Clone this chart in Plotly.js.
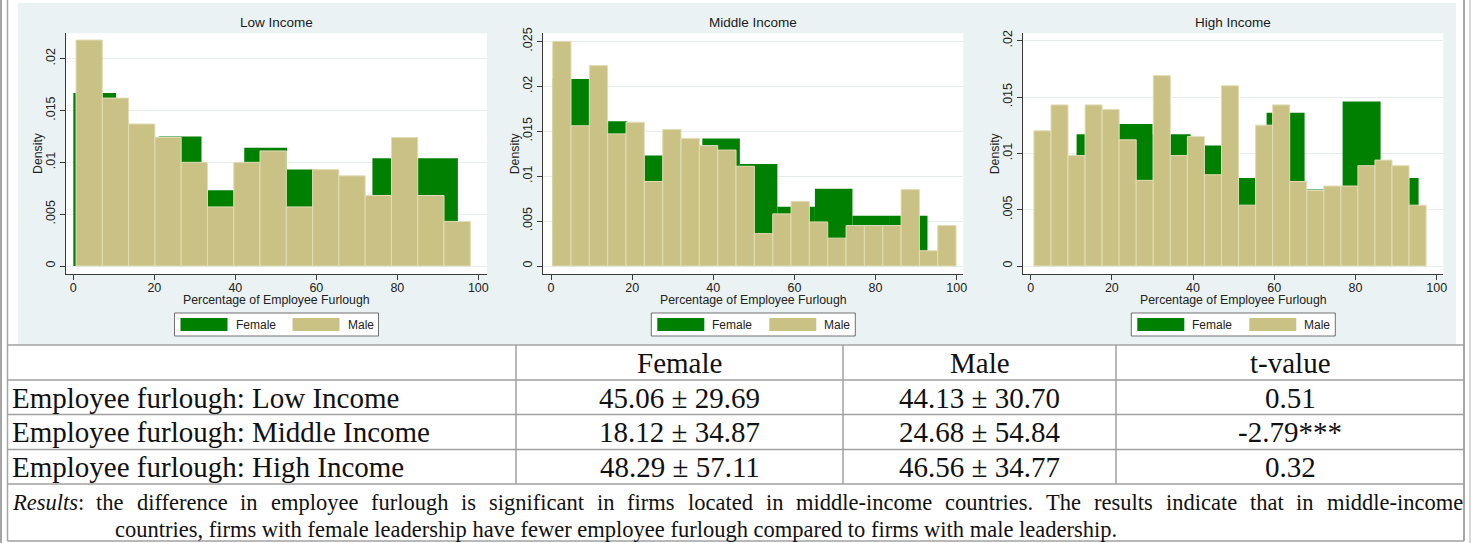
<!DOCTYPE html>
<html>
<head>
<meta charset="utf-8">
<script src="https://cdn.plot.ly/plotly-3.0.1.min.js"></script>
<style>
html,body{margin:0;padding:0;background:#fff;}
#chart{width:1471px;height:543px;}
</style>
</head>
<body>
<div id="chart"></div>
<script>
// ---------------- DATA ----------------
const panelTitles = ["Low Income", "Middle Income", "High Income"];
const xTickVals = [0, 20, 40, 60, 80, 100];
const xTickText = ["0", "20", "40", "60", "80", "100"];
const yTickValsLow = [0, 0.005, 0.01, 0.015, 0.02];
const yTickTextLow = ["0", ".005", ".01", ".015", ".02"];
const yTickValsMid = [0, 0.005, 0.01, 0.015, 0.02, 0.025];
const yTickTextMid = ["0", ".005", ".01", ".015", ".02", ".025"];
const yTickValsHigh = [0, 0.005, 0.01, 0.015, 0.02];
const yTickTextHigh = ["0", ".005", ".01", ".015", ".02"];

// histogram bins: first edge, bin width, densities
const maleLowStart = 0.67, maleLowWidth = 6.49;
const maleLowDensity = [0.0218, 0.0162, 0.0137, 0.0124, 0.0100, 0.0057, 0.0100, 0.0111, 0.0057, 0.0093, 0.0087, 0.0068, 0.0124, 0.0068, 0.0043];
const femaleLowStart = 0, femaleLowWidth = 10.55;
const femaleLowDensity = [0.0167, 0.0120, 0.0125, 0.0073, 0.0114, 0.0093, 0.0065, 0.0104, 0.0104];

const maleMidStart = 0.41, maleMidWidth = 4.52;
const maleMidDensity = [0.0250, 0.0156, 0.0223, 0.0147, 0.0160, 0.0094, 0.0152, 0.0142, 0.0134, 0.0129, 0.0111, 0.0036, 0.0058, 0.0072, 0.0049, 0.0031, 0.0045, 0.0045, 0.0045, 0.0085, 0.0017, 0.0045];
const femaleMidStart = 0.3, femaleMidWidth = 9.25;
const femaleMidDensity = [0.0208, 0.0161, 0.0123, 0.0125, 0.0142, 0.01135, 0.0066, 0.0086, 0.0056, 0.0056];

const maleHighStart = 0.8, maleHighWidth = 4.2;
const maleHighDensity = [0.0120, 0.0143, 0.0098, 0.0143, 0.0139, 0.0112, 0.0076, 0.0169, 0.0098, 0.0115, 0.0081, 0.0160, 0.0054, 0.0125, 0.0143, 0.0075, 0.0067, 0.0071, 0.0071, 0.0089, 0.0094, 0.0089, 0.0054];
const femaleHighStart = 1.95, femaleHighWidth = 9.36;
const femaleHighDensity = [0.0090, 0.0117, 0.0126, 0.0117, 0.0107, 0.0078, 0.0136, 0.0068, 0.0146, 0.0078];

const legendLabels = ["Female", "Male"];
const xAxisTitle = "Percentage of Employee Furlough";
const yAxisTitle = "Density";

// table
const tableHeader = ["", "Female", "Male", "t-value"];
const rowLabels = ["Employee furlough: Low Income", "Employee furlough: Middle Income", "Employee furlough: High Income"];
const femaleCol = ["45.06 \u00b1 29.69", "18.12 \u00b1 34.87", "48.29 \u00b1 57.11"];
const maleCol = ["44.13 \u00b1 30.70", "24.68 \u00b1 54.84", "46.56 \u00b1 34.77"];
const tCol = ["0.51", "-2.79***", "0.32"];
const resultsLead = "Results";
const resultsLine1 = ": the difference in employee furlough is significant in firms located in middle-income countries. The results indicate that in middle-income";
const resultsLine2 = "countries, firms with female leadership have fewer employee furlough compared to firms with male leadership.";

// ---------------- STYLE / LAYOUT ----------------
const W = 1471, H = 543;
const px = x => x / W;
const py = y => 1 - y / H;
const GREEN = "#008000", KHAKI = "#cac285", BG = "#eaf2f3";
const AXC = "#3a3a3a";
const SANS = "Arial, 'Liberation Sans', sans-serif";
const SERIF = "'Times New Roman', 'Liberation Serif', serif";

function centers(start, width, n) { const a = []; for (let i = 0; i < n; i++) a.push(start + width * (i + 0.5)); return a; }

const panels = [
  {fs: femaleLowStart, fw: femaleLowWidth, fd: femaleLowDensity, ms: maleLowStart, mw: maleLowWidth, md: maleLowDensity,
   left: 66, right: 487, x0: 73.33, x100: 478.33, y0: 266, yRefVal: 0.02, yRefPx: 58.67, tv: yTickValsLow, tt: yTickTextLow},
  {fs: femaleMidStart, fw: femaleMidWidth, fd: femaleMidDensity, ms: maleMidStart, mw: maleMidWidth, md: maleMidDensity,
   left: 543.3, right: 963.3, x0: 551, x100: 956.7, y0: 266, yRefVal: 0.025, yRefPx: 41.33, tv: yTickValsMid, tt: yTickTextMid},
  {fs: femaleHighStart, fw: femaleHighWidth, fd: femaleHighDensity, ms: maleHighStart, mw: maleHighWidth, md: maleHighDensity,
   left: 1023.3, right: 1443.3, x0: 1030.67, x100: 1436.67, y0: 266, yRefVal: 0.02, yRefPx: 40.67, tv: yTickValsHigh, tt: yTickTextHigh}
];
const plotTop = 33.3, plotBottom = 274;

const traces = [];
const layout = {
  width: W, height: H,
  margin: {l: 0, r: 0, t: 0, b: 0},
  paper_bgcolor: "#ffffff",
  plot_bgcolor: "rgba(0,0,0,0)",
  showlegend: false,
  barmode: "overlay",
  font: {family: SANS, color: "#222"},
  shapes: [], annotations: []
};

// graph background
layout.shapes.push({type: "rect", xref: "paper", yref: "paper", x0: px(18), x1: px(1456), y0: py(344), y1: py(3), fillcolor: BG, line: {width: 0}, layer: "below"});

panels.forEach((p, i) => {
  const n = i + 1;
  const xa = "xaxis" + (n === 1 ? "" : n), ya = "yaxis" + (n === 1 ? "" : n);
  const xr = "x" + (n === 1 ? "" : n), yr = "y" + (n === 1 ? "" : n);
  const ppu = (p.x100 - p.x0) / 100;
  const ypu = (p.y0 - p.yRefPx) / p.yRefVal;
  const xRange = [(p.left - p.x0) / ppu, (p.right - p.x0) / ppu];
  const yRange = [(p.y0 - plotBottom) / ypu, (p.y0 - plotTop) / ypu];

  // white plot area
  layout.shapes.push({type: "rect", xref: "paper", yref: "paper", x0: px(p.left), x1: px(p.right), y0: py(plotBottom), y1: py(plotTop), fillcolor: "#ffffff", line: {width: 0}, layer: "below"});

  traces.push({type: "bar", x: centers(p.fs, p.fw, p.fd.length), y: p.fd, width: p.fw, name: legendLabels[0],
    marker: {color: GREEN, line: {color: GREEN, width: 0}}, xaxis: xr, yaxis: yr, hoverinfo: "skip"});
  traces.push({type: "bar", x: centers(p.ms, p.mw, p.md.length), y: p.md, width: p.mw, name: legendLabels[1],
    marker: {color: KHAKI, line: {color: "#e2ddb8", width: 1}}, xaxis: xr, yaxis: yr, hoverinfo: "skip"});

  layout[xa] = {
    domain: [px(p.left), px(p.right)], anchor: yr, range: xRange, fixedrange: true,
    tickvals: xTickVals, ticktext: xTickText, ticks: "outside", ticklen: 5, tickcolor: AXC, tickwidth: 1,
    showline: true, linecolor: AXC, linewidth: 1, showgrid: false, zeroline: false, ticklabelstandoff: -3,
    tickfont: {family: SANS, size: 12.5, color: "#222"}
  };
  layout[ya] = {
    domain: [py(plotBottom), py(plotTop)], anchor: xr, range: yRange, fixedrange: true,
    tickvals: p.tv, ticktext: p.tt, tickangle: -90, ticks: "outside", ticklen: 5, tickcolor: AXC, tickwidth: 1,
    showline: true, linecolor: AXC, linewidth: 1, showgrid: true, gridcolor: "#e6eef0", gridwidth: 1, zeroline: false,
    tickfont: {family: SANS, size: 12.5, color: "#222"}
  };

  const cx = (p.left + p.right) / 2;
  layout.annotations.push({xref: "paper", yref: "paper", x: px(cx), y: py(22), text: panelTitles[i], showarrow: false,
    xanchor: "center", yanchor: "middle", font: {family: SANS, size: 13.5, color: "#1a1a1a"}});
  // axis titles
  layout.annotations.push({xref: "paper", yref: "paper", x: px(cx), y: py(300), text: xAxisTitle, showarrow: false,
    xanchor: "center", yanchor: "middle", font: {family: SANS, size: 12.3, color: "#222"}});
  layout.annotations.push({xref: "paper", yref: "paper", x: px(p.left - 28), y: py(153), text: yAxisTitle, showarrow: false, textangle: -90,
    xanchor: "center", yanchor: "middle", font: {family: SANS, size: 12.3, color: "#222"}});

  // legend box
  const lx = cx - 102;
  layout.shapes.push({type: "rect", xref: "paper", yref: "paper", x0: px(lx), x1: px(lx + 204), y0: py(336), y1: py(313), fillcolor: "#ffffff", line: {color: "#707070", width: 1}});
  layout.shapes.push({type: "rect", xref: "paper", yref: "paper", x0: px(lx + 6), x1: px(lx + 53), y0: py(331), y1: py(318), fillcolor: GREEN, line: {width: 0}});
  layout.shapes.push({type: "rect", xref: "paper", yref: "paper", x0: px(lx + 118), x1: px(lx + 165), y0: py(331), y1: py(318), fillcolor: KHAKI, line: {width: 0}});
  layout.annotations.push({xref: "paper", yref: "paper", x: px(lx + 59), y: py(324.5), text: legendLabels[0], showarrow: false, xanchor: "left", yanchor: "middle", font: {family: SANS, size: 12, color: "#222"}});
  layout.annotations.push({xref: "paper", yref: "paper", x: px(lx + 171), y: py(324.5), text: legendLabels[1], showarrow: false, xanchor: "left", yanchor: "middle", font: {family: SANS, size: 12, color: "#222"}});
});

// outer frame lines
const FR = "#a6a6a6";
function vline(x, y0, y1, c, w) { layout.shapes.push({type: "line", xref: "paper", yref: "paper", x0: px(x), x1: px(x), y0: py(y0), y1: py(y1), line: {color: c, width: w}}); }
function hline(y, x0, x1, c, w) { layout.shapes.push({type: "line", xref: "paper", yref: "paper", x0: px(x0), x1: px(x1), y0: py(y), y1: py(y), line: {color: c, width: w}}); }
vline(1, 0, 543, FR, 2);
vline(7.5, 0, 541, FR, 1.5);
vline(1464, 0, 541, FR, 2);
vline(1470, 0, 543, "#c8c8c8", 1.5);

// table lines
const TL = "#a0a0a0";
const rowLines = [345, 380, 414.5, 449.5, 484, 541];
rowLines.forEach(y => hline(y, 7.5, 1464, TL, 1.5));
[516, 843, 1116].forEach(x => vline(x, 345, 484, TL, 1.5));

// table text
const colCenters = [null, 679.5, 979.5, 1290];
const rowCentersY = [362.5, 397.5, 432, 467];
const TFS = 29;
for (let c = 1; c < 4; c++) {
  layout.annotations.push({xref: "paper", yref: "paper", x: px(colCenters[c]), y: py(rowCentersY[0]), text: tableHeader[c], showarrow: false, xanchor: "center", yanchor: "middle", font: {family: SERIF, size: TFS, color: "#111"}});
}
for (let r = 0; r < 3; r++) {
  const yy = py(rowCentersY[r + 1]);
  layout.annotations.push({xref: "paper", yref: "paper", x: px(10), y: yy, text: rowLabels[r], showarrow: false, xanchor: "left", yanchor: "middle", font: {family: SERIF, size: TFS, color: "#111"}});
  layout.annotations.push({xref: "paper", yref: "paper", x: px(colCenters[1]), y: yy, text: femaleCol[r], showarrow: false, xanchor: "center", yanchor: "middle", font: {family: SERIF, size: TFS, color: "#111"}});
  layout.annotations.push({xref: "paper", yref: "paper", x: px(colCenters[2]), y: yy, text: maleCol[r], showarrow: false, xanchor: "center", yanchor: "middle", font: {family: SERIF, size: TFS, color: "#111"}});
  layout.annotations.push({xref: "paper", yref: "paper", x: px(colCenters[3]), y: yy, text: tCol[r], showarrow: false, xanchor: "center", yanchor: "middle", font: {family: SERIF, size: TFS, color: "#111"}});
}

// justified first line of the results note
const RFS = 22.5;
const cv = document.createElement("canvas").getContext("2d");
const fam = "'Liberation Serif', 'Times New Roman', serif";
const words = resultsLine1.trim().split(" ");
const wordTexts = words.map((w, k) => k === 0 ? "<i>" + resultsLead + "</i>" + w : w);
const widths = words.map((w, k) => {
  cv.font = RFS + "px " + fam;
  let wd = cv.measureText(w).width;
  if (k === 0) { cv.font = "italic " + RFS + "px " + fam; wd += cv.measureText(resultsLead).width; }
  return wd;
});
const leftX = 11, rightX = 1462;
const totalW = widths.reduce((a, b) => a + b, 0);
const gap = (rightX - leftX - totalW) / (words.length - 1);
let cur = leftX;
wordTexts.forEach((t, k) => {
  layout.annotations.push({xref: "paper", yref: "paper", x: px(cur - 1), y: py(502.5), text: t, showarrow: false, xanchor: "left", yanchor: "middle", font: {family: SERIF, size: RFS, color: "#111"}});
  cur += widths[k] + gap;
});
layout.annotations.push({xref: "paper", yref: "paper", x: px(113), y: py(529), text: resultsLine2, showarrow: false, xanchor: "left", yanchor: "middle", font: {family: SERIF, size: RFS, color: "#111"}});

Plotly.newPlot("chart", traces, layout, {staticPlot: true, displayModeBar: false});
</script>
</body>
</html>
